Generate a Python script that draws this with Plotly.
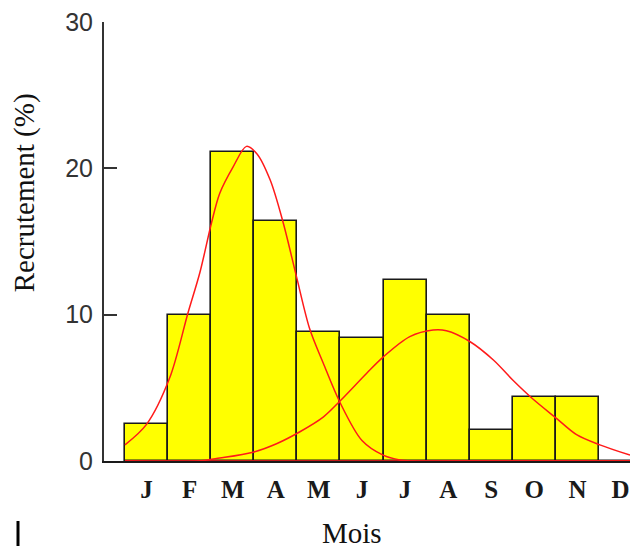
import plotly.graph_objects as go

# ---- data ----
months = ["J", "F", "M", "A", "M", "J", "J", "A", "S", "O", "N", "D"]
month_pos = [1, 2, 3, 4, 5, 6, 7, 8, 9, 10, 11, 12]
recruitment = [2.5, 10.0, 21.1, 16.4, 8.8, 8.4, 12.4, 10.0, 2.1, 4.4, 4.4, 0.0]

# first fitted component
curve1_x = [0.50, 1.00, 1.54, 1.96, 2.24, 2.51, 2.70, 3.01, 3.32, 3.56, 3.87,
            4.17, 4.48, 4.79, 5.10, 5.49, 6.00, 6.49, 6.88, 7.18, 9.0, 12.22]
curve1_y = [1.1, 2.5, 5.7, 10.1, 12.9, 16.3, 18.3, 20.1, 21.5, 21.0, 19.2,
            16.3, 12.6, 9.0, 6.7, 4.0, 1.4, 0.4, 0.07, 0.0, 0.0, 0.0]

# second fitted component
curve2_x = [0.50, 2.19, 2.70, 3.47, 4.03, 4.56, 5.10, 5.49, 6.11, 6.49, 7.11,
            7.65, 7.96, 8.51, 9.05, 9.51, 9.98, 10.52, 10.98, 11.52, 12.22]
curve2_y = [0.0, 0.0, 0.2, 0.6, 1.2, 2.0, 3.0, 4.1, 6.0, 7.1, 8.5,
            8.95, 8.9, 8.15, 6.9, 5.5, 4.2, 2.9, 1.8, 1.1, 0.4]

y_ticks = [0, 10, 20, 30]
x_range = [0.013, 12.22]
y_range = [0, 30]

fig = go.Figure()

fig.add_trace(go.Bar(
    x=month_pos, y=recruitment, width=1,
    marker=dict(color="#FFFF00", line=dict(color="#1a1a1a", width=1.6)),
    hoverinfo="skip",
))

# red baseline under the bars
fig.add_trace(go.Scatter(
    x=[month_pos[0] - 0.5, x_range[1]], y=[0, 0], mode="lines",
    line=dict(color="#FF1A1A", width=1.6), hoverinfo="skip",
))

fig.add_trace(go.Scatter(
    x=curve1_x, y=curve1_y, mode="lines",
    line=dict(color="#FF1A1A", width=1.5, shape="spline", smoothing=0.9),
))
fig.add_trace(go.Scatter(
    x=curve2_x, y=curve2_y, mode="lines",
    line=dict(color="#FF1A1A", width=1.5, shape="spline", smoothing=0.9),
))

fig.update_layout(
    width=630, height=551,
    margin=dict(l=104, r=0, t=22, b=90),
    paper_bgcolor="white", plot_bgcolor="white",
    showlegend=False, bargap=0,
    xaxis=dict(
        range=x_range, tickmode="array", tickvals=month_pos, ticktext=months,
        showgrid=False, zeroline=False, showline=True, automargin=False,
        linecolor="#1a1a1a", linewidth=2, ticks="",
        tickfont=dict(family="Liberation Serif, Times New Roman, serif",
                      size=25, color="#1a1a1a", weight="bold"),
        ticklabelstandoff=5, ticklabeloverflow="allow",
    ),
    yaxis=dict(
        range=y_range, tickmode="array", tickvals=y_ticks,
        showgrid=False, zeroline=False, showline=True, automargin=False,
        linecolor="#333333", linewidth=2, ticks="inside", ticklen=13,
        tickwidth=2, tickcolor="#333333",
        tickfont=dict(family="Liberation Sans Narrow, Arial Narrow, Liberation Sans, Arial",
                      size=25, color="#333333"),
        ticklabelstandoff=4,
    ),
    annotations=[
        dict(text="Recrutement (%)", textangle=-90, xref="paper", yref="paper",
             x=-0.1511, y=0.611, xanchor="center", yanchor="middle",
             showarrow=False,
             font=dict(family="Liberation Serif, Times New Roman, serif",
                       size=29, color="#111111")),
        dict(text="Mois", xref="paper", yref="paper",
             x=0.4715, y=-0.164, xanchor="center", yanchor="middle",
             showarrow=False,
             font=dict(family="Liberation Serif, Times New Roman, serif",
                       size=29, color="#111111")),
    ],
    shapes=[
        dict(type="line", xref="paper", yref="paper",
             x0=-0.1635, x1=-0.1635, y0=-0.1367, y1=-0.1936,
             line=dict(color="black", width=3)),
    ],
)

fig.write_html(
    "out.html",
    config={"displayModeBar": False},
    post_script="document.body.style.margin='0';document.body.style.padding='0';"
                "document.body.style.overflow='hidden';",
)
